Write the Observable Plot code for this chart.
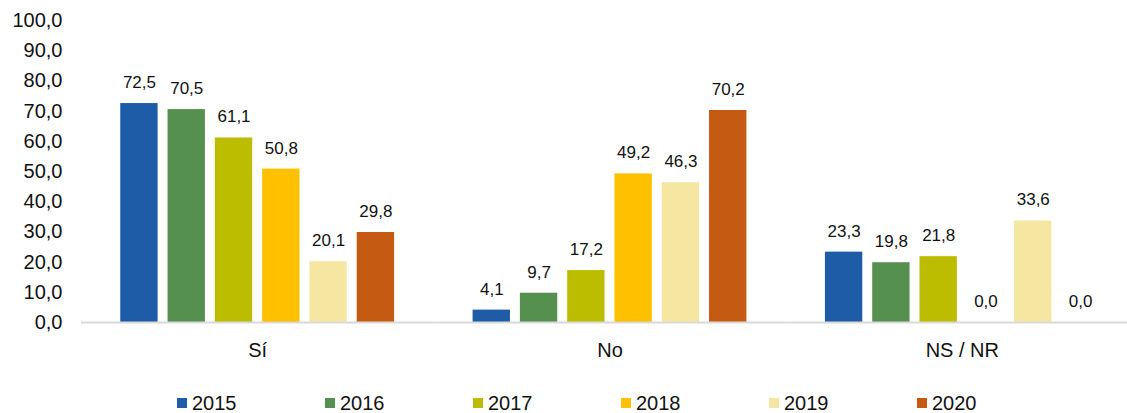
<!DOCTYPE html>
<html><head><meta charset="utf-8">
<script src="https://cdn.jsdelivr.net/npm/d3@7"></script>
<script src="https://cdn.jsdelivr.net/npm/@observablehq/plot@0.6"></script>
<style>
body{margin:0;background:#fff;font-family:"Liberation Sans",Arial,sans-serif;color:#111;}
#chart{position:absolute;left:0;top:0;}
#legend{display:flex;position:absolute;top:391px;left:177px;font-size:20px;line-height:24px;}
.item{width:148px;display:flex;align-items:center;}
.sw{width:10px;height:10px;margin-right:5px;}
</style></head><body><div id="chart"></div><div id="legend"></div>
<script>
const categories = ["Sí", "No", "NS / NR"];
const years = ["2015", "2016", "2017", "2018", "2019", "2020"];
const colors = ["#1f5ca8", "#55904e", "#bcbd00", "#ffc000", "#f5e7a1", "#c55a12"];
const v2015 = [72.5, 4.1, 23.3];
const v2016 = [70.5, 9.7, 19.8];
const v2017 = [61.1, 17.2, 21.8];
const v2018 = [50.8, 49.2, 0.0];
const v2019 = [20.1, 46.3, 33.6];
const v2020 = [29.8, 70.2, 0.0];
const yTicks = [0, 10, 20, 30, 40, 50, 60, 70, 80, 90, 100];

const series = [v2015, v2016, v2017, v2018, v2019, v2020];
const data = [];
categories.forEach((c, i) => years.forEach((y, j) => data.push({cat: c, year: y, value: series[j][i]})));
const fmt = v => v.toFixed(1).replace(".", ",");

const chart = Plot.plot({
  width: 1127, height: 375,
  marginLeft: 81, marginRight: -11, marginTop: 20, marginBottom: 53,
  style: {fontFamily: "'Liberation Sans', Arial, sans-serif", color: "#111", background: "#fff"},
  fx: {domain: categories, padding: 0, round: false, label: null, axis: null},
  x: {domain: years, paddingInner: 0.21, paddingOuter: 0.83, round: false, axis: null},
  y: {domain: [0, 100], label: null},
  color: {domain: years, range: colors},
  marks: [
    Plot.axisY({ticks: yTicks, tickSize: 0, tickPadding: 19, fontSize: 20, tickFormat: fmt, label: null}),
    Plot.axisFx({anchor: "bottom", tickSize: 0, tickPadding: 20, fontSize: 20, label: null}),
    Plot.barY(data, {fx: "cat", x: "year", y: "value", fill: "year"}),
    Plot.text(data, {fx: "cat", x: "year", y: "value", text: d => fmt(d.value), dy: -21, fontSize: 17, fill: "#111"}),
    Plot.ruleY([0], {stroke: "#d9d9d9", strokeWidth: 2})
  ]
});
document.getElementById("chart").append(chart);

const legend = document.getElementById("legend");
years.forEach((y, i) => {
  const it = document.createElement("div"); it.className = "item";
  const sw = document.createElement("span"); sw.className = "sw"; sw.style.background = colors[i];
  const t = document.createElement("span"); t.textContent = y;
  it.append(sw, t); legend.append(it);
});
</script></body></html>
